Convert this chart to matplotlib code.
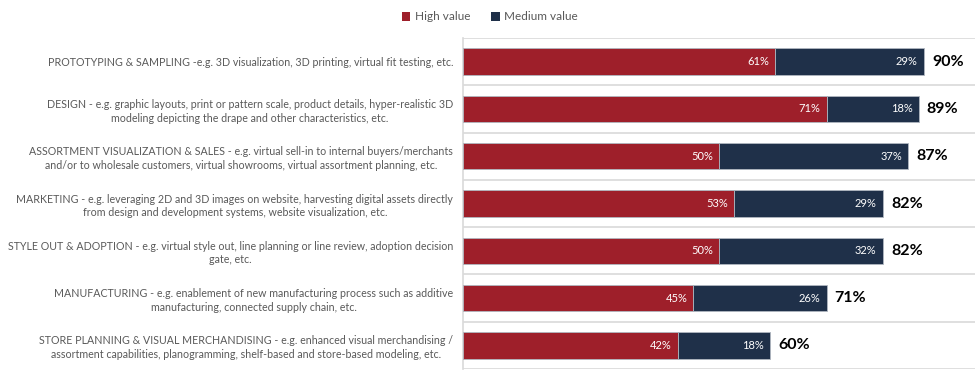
import matplotlib
matplotlib.use("Agg")
import matplotlib.pyplot as plt
from matplotlib.patches import Patch

plt.rcParams['font.family'] = ['Lato', 'DejaVu Sans']

categories = [
    "PROTOTYPING & SAMPLING -e.g. 3D visualization, 3D printing, virtual fit testing, etc.",
    "DESIGN - e.g. graphic layouts, print or pattern scale, product details, hyper-realistic 3D\nmodeling depicting the drape and other characteristics, etc.",
    "ASSORTMENT VISUALIZATION & SALES - e.g. virtual sell-in to internal buyers/merchants\nand/or to wholesale customers, virtual showrooms, virtual assortment planning, etc.",
    "MARKETING - e.g. leveraging 2D and 3D images on website, harvesting digital assets directly\nfrom design and development systems, website visualization, etc.",
    "STYLE OUT & ADOPTION - e.g. virtual style out, line planning or line review, adoption decision\ngate, etc.",
    "MANUFACTURING - e.g. enablement of new manufacturing process such as additive\nmanufacturing, connected supply chain, etc.",
    "STORE PLANNING & VISUAL MERCHANDISING - e.g. enhanced visual merchandising /\nassortment capabilities, planogramming, shelf-based and store-based modeling, etc.",
]
high = [61, 71, 50, 53, 50, 45, 42]
medium = [29, 18, 37, 29, 32, 26, 18]
totals = [90, 89, 87, 82, 82, 71, 60]

RED = "#9E1F2A"
NAVY = "#1F3049"
GRID = "#D9D9D9"
TXT = "#595959"

fig = plt.figure(figsize=(9.75, 3.81), dpi=100)
ax = fig.add_axes([463/975, 12/381, 1 - 463/975, 331/381])

y = list(range(len(categories)))
h = 0.56
ax.barh(y, high, height=h, color=RED, edgecolor="#B0B7C0", linewidth=0.6, label="High value", zorder=3)
ax.barh(y, medium, left=high, height=h, color=NAVY, edgecolor="#B0B7C0", linewidth=0.6, label="Medium value", zorder=3)

for i in y:
    ax.text(high[i] - 1.2, i, f"{high[i]}%", ha="right", va="center", color="white", fontsize=8, zorder=4)
    ax.text(high[i] + medium[i] - 1.2, i, f"{medium[i]}%", ha="right", va="center", color="white", fontsize=8, zorder=4)
    ax.text(totals[i] + 1.6, i, f"{totals[i]}%", ha="left", va="center", color="black", fontsize=11.5, fontweight="bold", zorder=4)

ax.set_xlim(0, 100)
ax.set_ylim(len(categories) - 0.5, -0.5)
for b in [k - 0.5 for k in range(len(categories) + 1)]:
    ax.axhline(b, color=GRID, linewidth=1.2, zorder=1)

ax.set_yticks(y)
ax.set_yticklabels(categories, fontsize=7.65, color=TXT, multialignment="center", linespacing=1.3)
ax.tick_params(axis="y", length=0, pad=7)
ax.set_xticks([])
for s in ["top", "right", "bottom"]:
    ax.spines[s].set_visible(False)
ax.spines["left"].set_color(GRID)
ax.spines["left"].set_linewidth(1.2)

handles = [Patch(facecolor=RED, label="High value"), Patch(facecolor=NAVY, label="Medium value")]
fig.legend(handles=handles, loc="center", bbox_to_anchor=(490/975, 1 - 17/381), ncol=2, frameon=False,
           fontsize=8.5, labelcolor=TXT, handlelength=0.7, handleheight=0.7, handletextpad=0.4, columnspacing=1.8)

fig.savefig("out.png", dpi=100)
